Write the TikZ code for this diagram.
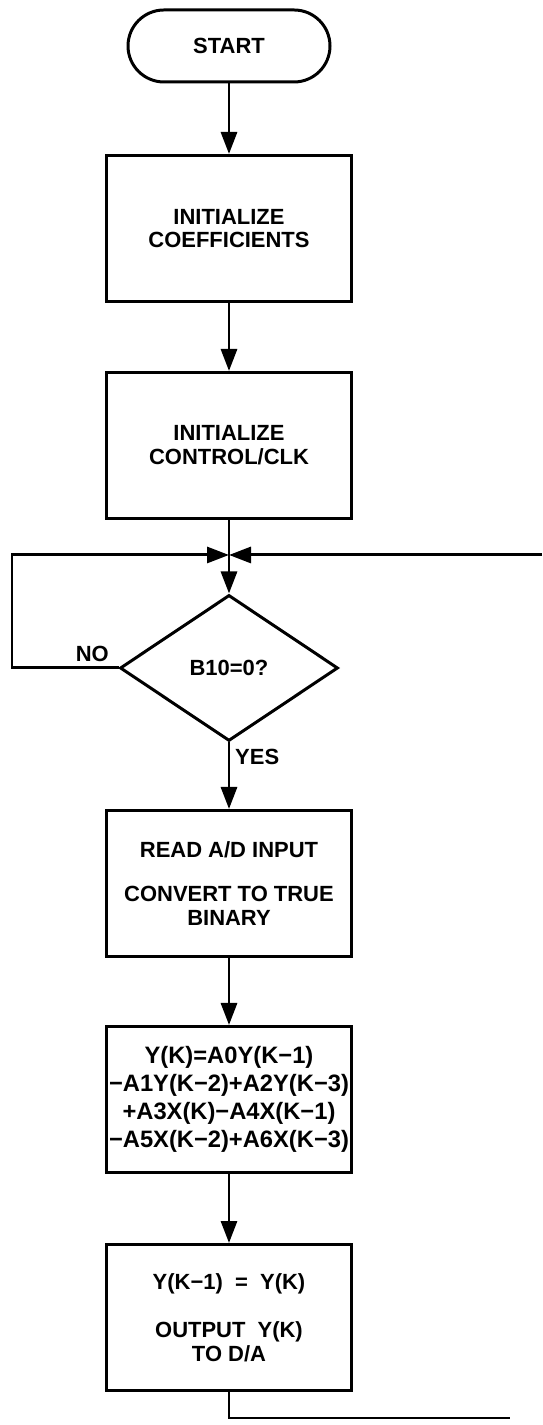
\documentclass[tikz,border=0pt]{standalone}
\usepackage{fontspec}
\setmainfont{Liberation Sans}
\usetikzlibrary{shapes.geometric,arrows.meta,positioning}

\begin{document}
\begin{tikzpicture}[every node/.style={align=center, font=\fontsize{12.5}{13.5}\selectfont\bfseries},
  procbox/.style={draw, line width=1.7pt, minimum width=4.9cm, minimum height=2.92cm, inner sep=1pt},
  termbox/.style={draw, line width=1.7pt, rounded corners=0.72cm, minimum width=4.04cm, minimum height=1.44cm},
  decbox/.style={draw, diamond, line width=1.7pt, minimum width=4.36cm, minimum height=2.92cm, inner sep=0pt},
  wire/.style={line width=1.7pt},
  flow/.style={wire, -{Triangle[length=0.44cm, width=0.32cm]}}]
\useasboundingbox (0,0) rectangle (10.84,28.5);

% Blocks
\node[termbox] (start) at (4.58,27.58) {START};
\node[procbox] (coef) at (4.58,23.93) {INITIALIZE\\COEFFICIENTS};
\node[procbox] (clk) at (4.58,19.59) {INITIALIZE\\CONTROL/CLK};
\node[decbox] (test) at (4.58,15.14) {B10=0?};
\node[procbox] (read) at (4.58,10.83) {READ A/D INPUT\\[0.4cm]CONVERT TO TRUE\\BINARY};
\node[procbox, font=\fontsize{13.5}{16}\selectfont\bfseries] (calc) at (4.58,6.51)
  {Y(K)=A0Y(K−1)\\−A1Y(K−2)+A2Y(K−3)\\+A3X(K)−A4X(K−1)\\−A5X(K−2)+A6X(K−3)};
\node[procbox] (out) at (4.58,2.15) {Y(K−1)\ \ =\ \ Y(K)\\[0.5cm]OUTPUT\ \ Y(K)\\TO D/A};

% Labels
\node[above left=0pt and 2pt of test.west] (nolbl) {NO};
\node[below right=0pt and 0pt of test.south] (yeslbl) {YES};

% Corners
\coordinate (merge) at (4.58,17.4);
\coordinate (noturn) at (0.24,15.14);
\coordinate (noup) at (0.24,17.4);
\coordinate (back) at (10.84,17.4);
\coordinate (outdown) at (4.58,0.14);
\coordinate (outend) at (10.2,0.14);

% Arrows
\draw[flow] (start) -- (coef);
\draw[flow] (coef) -- (clk);
\draw[wire] (clk) -- (merge);
\draw[flow] (test.west) -- (noturn) -- (noup) -- (merge);
\draw[flow] (back) -- (merge);
\draw[flow] (merge) -- (test);
\draw[flow] (test) -- (read);
\draw[flow] (read) -- (calc);
\draw[flow] (calc) -- (out);
\draw[wire] (out) -- (outdown) -- (outend);
\end{tikzpicture}
\end{document}
